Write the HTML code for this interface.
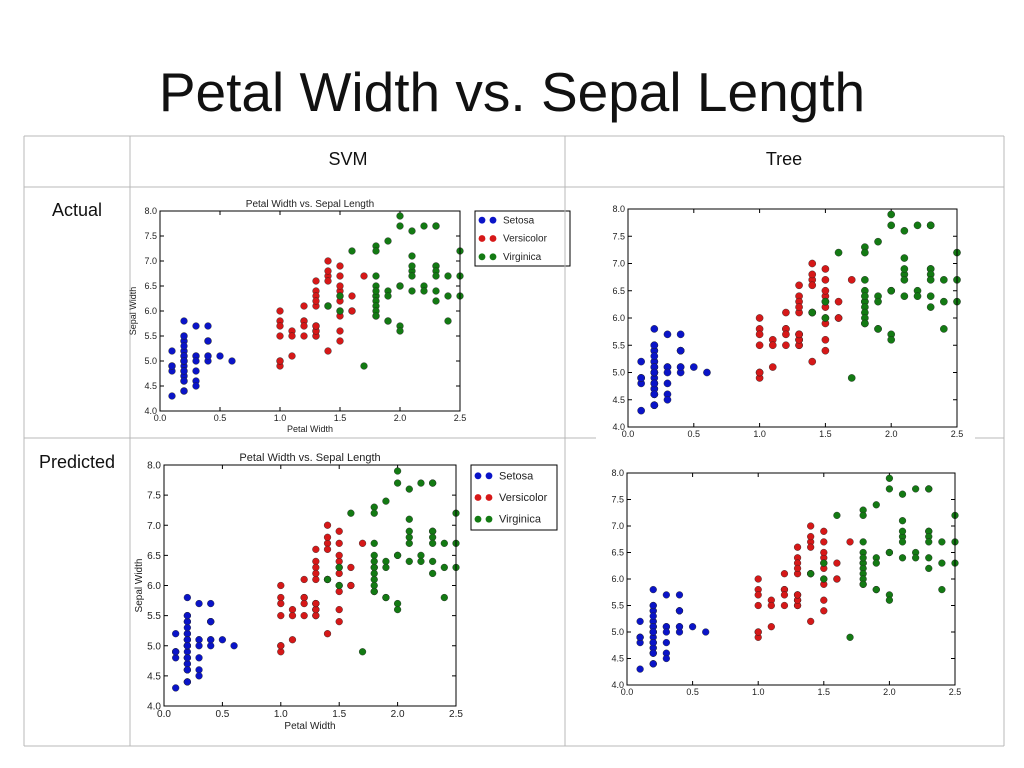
<!DOCTYPE html>
<html><head><meta charset="utf-8">
<style>
body{margin:0;background:#fff;width:1024px;height:768px;overflow:hidden;font-family:"Liberation Sans",sans-serif;}
#title{position:absolute;left:0;width:1024px;top:60px;text-align:center;font-size:55px;color:#111;}
svg{position:absolute;left:0;top:0;}
</style></head><body>
<div id="title">Petal Width vs. Sepal Length</div>
<svg id="s" width="1024" height="768"></svg>
<script>
const setosaPW=[0.2,0.2,0.2,0.2,0.2,0.4,0.3,0.2,0.2,0.1,0.2,0.2,0.1,0.1,0.2,0.4,0.4,0.3,0.3,0.3,0.2,0.4,0.2,0.5,0.2,0.2,0.4,0.2,0.2,0.2,0.2,0.4,0.1,0.2,0.1,0.2,0.2,0.1,0.2,0.2,0.3,0.3,0.2,0.6,0.4,0.3,0.2,0.2,0.2,0.2];
const setosaSL=[5.1,4.9,4.7,4.6,5.0,5.4,4.6,5.0,4.4,4.9,5.4,4.8,4.8,4.3,5.8,5.7,5.4,5.1,5.7,5.1,5.4,5.1,4.6,5.1,4.8,5.0,5.0,5.2,5.2,4.7,4.8,5.4,5.2,5.5,4.9,5.0,5.5,4.9,4.4,5.1,5.0,4.5,4.4,5.0,5.1,4.8,5.1,4.6,5.3,5.0];
const versiPW=[1.4,1.5,1.5,1.3,1.5,1.3,1.6,1.0,1.3,1.4,1.0,1.5,1.0,1.4,1.3,1.4,1.5,1.0,1.5,1.1,1.8,1.3,1.5,1.2,1.3,1.4,1.4,1.7,1.5,1.0,1.1,1.0,1.2,1.6,1.5,1.6,1.5,1.3,1.3,1.3,1.2,1.4,1.2,1.0,1.3,1.2,1.3,1.3,1.1,1.3];
const versiSL=[7.0,6.4,6.9,5.5,6.5,5.7,6.3,4.9,6.6,5.2,5.0,5.9,6.0,6.1,5.6,6.7,5.6,5.8,6.2,5.6,5.9,6.1,6.3,6.1,6.4,6.6,6.8,6.7,6.0,5.7,5.5,5.5,5.8,6.0,5.4,6.0,6.7,6.3,5.6,5.5,5.5,6.1,5.8,5.0,5.6,5.7,5.7,6.2,5.1,5.7];
const virgPW=[2.5,1.9,2.1,1.8,2.2,2.1,1.7,1.8,1.8,2.5,2.0,1.9,2.1,2.0,2.4,2.3,1.8,2.2,2.3,1.5,2.3,2.0,2.0,1.8,2.1,1.8,1.8,1.8,2.1,1.6,1.9,2.0,2.2,1.5,1.4,2.3,2.4,1.8,1.8,2.1,2.4,2.3,1.9,2.3,2.5,2.3,1.9,2.0,2.3,1.8];
const virgSL=[6.3,5.8,7.1,6.3,6.5,7.6,4.9,7.3,6.7,7.2,6.5,6.4,6.8,5.7,5.8,6.4,6.5,7.7,7.7,6.0,6.9,5.6,7.7,6.3,6.7,7.2,6.2,6.1,6.4,7.2,7.4,7.9,6.4,6.3,6.1,7.7,6.3,6.4,6.0,6.9,6.7,6.9,5.8,6.8,6.7,6.7,6.3,6.5,6.2,5.9];
const xTicks=[0.0,0.5,1.0,1.5,2.0,2.5];
const yTicks=[4.0,4.5,5.0,5.5,6.0,6.5,7.0,7.5,8.0];
const speciesNames=['Setosa','Versicolor','Virginica'];
const colors=['#0a14c8','#d61818','#137a13'];
const NS='http://www.w3.org/2000/svg';
const s=document.getElementById('s');
function mk(tag,attrs,parent,text){const e=document.createElementNS(NS,tag);for(const k in attrs)e.setAttribute(k,attrs[k]);if(text!==undefined)e.textContent=text;(parent||s).appendChild(e);return e;}
const g0=mk('g',{});


[[24,136,1004,136],[24,187,1004,187],[24,438,1004,438],[24,746,1004,746],[24,136,24,746],[130,136,130,746],[565,136,565,746],[1004,136,1004,746]].forEach(l=>mk('line',{x1:l[0],y1:l[1],x2:l[2],y2:l[3],stroke:'#b8b8b8','stroke-width':1},g0));
function label(txt,x,y,name){const t=mk('text',{x:x,y:y,'font-size':18,'text-anchor':'middle',fill:'#111'},s,txt);}
label('SVM',348,165,'svm-column-header');
label('Tree',784,165,'tree-column-header');
label('Actual',77,216,'actual-row-header');
label('Predicted',77,468,'predicted-row-header');

function plot(name,L,R,T,B,opts){
  const g=mk('g',{});
  
  
  mk('rect',{x:opts.bx0,y:opts.by0,width:opts.bx1-opts.bx0,height:opts.by1-opts.by0,fill:'#fff'},g);
  const xs=v=>L+(v-0)/(2.5)*(R-L);
  const ys=v=>B-(v-4)/4*(B-T);
  const fs=opts.fs;
  xTicks.forEach(t=>{mk('line',{x1:xs(t),y1:B,x2:xs(t),y2:B-4,stroke:'#000'},g);mk('line',{x1:xs(t),y1:T,x2:xs(t),y2:T+4,stroke:'#000'},g);
    mk('text',{x:xs(t),y:B+fs+1,'font-size':fs,'text-anchor':'middle',fill:'#222'},g,t.toFixed(1));});
  yTicks.forEach(t=>{mk('line',{x1:L,y1:ys(t),x2:L+4,y2:ys(t),stroke:'#000'},g);mk('line',{x1:R,y1:ys(t),x2:R-4,y2:ys(t),stroke:'#000'},g);
    mk('text',{x:L-3,y:ys(t)+fs*0.35,'font-size':fs,'text-anchor':'end',fill:'#222'},g,t.toFixed(1));});
  const sets=[[setosaPW,setosaSL],[versiPW,versiSL],[virgPW,virgSL]];
  sets.forEach((d,ci)=>{d[0].forEach((pw,i)=>{const c=mk('circle',{cx:xs(pw),cy:ys(d[1][i]),r:opts.r,fill:colors[ci],stroke:'#222','stroke-width':0.4},g);
    
    });});
  mk('rect',{x:L,y:T,width:R-L,height:B-T,fill:'none',stroke:'#000','stroke-width':1},g);
  if(opts.title){
    const t=mk('text',{x:(L+R)/2,y:T-4,'font-size':fs+1,'text-anchor':'middle',fill:'#222'},g,'Petal Width vs. Sepal Length');
    
    const xl=mk('text',{x:(L+R)/2,y:B+fs*2+3,'font-size':fs,'text-anchor':'middle',fill:'#222'},g,'Petal Width');
    
    const yl=mk('text',{x:0,y:0,'font-size':fs,'text-anchor':'middle',fill:'#222',transform:`translate(${opts.ylx},${(T+B)/2}) rotate(-90)`},g,'Sepal Width');
    
    const lg=mk('g',{},g);
    
    
    const [lx,ly,lw,lh]=opts.leg;
    mk('rect',{x:lx,y:ly,width:lw,height:lh,fill:'#fff',stroke:'#000'},lg);
    speciesNames.forEach((n,i)=>{const yy=ly+lh*(i+0.5)/3;
      mk('circle',{cx:lx+7,cy:yy,r:opts.r,fill:colors[i]},lg);mk('circle',{cx:lx+18,cy:yy,r:opts.r,fill:colors[i]},lg);
      const t=mk('text',{x:lx+28,y:yy+fs*0.35,'font-size':fs+1,fill:'#222'},lg,n);
      });
  }
}
plot('svm-actual-chart',160,460,211,411,{bx0:131,by0:190,bx1:564,by1:437,fs:9,r:3.4,title:true,ylx:136,leg:[475,211,95,55]});
plot('tree-actual-chart',628,957,209,427,{bx0:596,by0:196,bx1:975,by1:442,fs:9,r:3.6});
plot('svm-predicted-chart',164,456,465,706,{bx0:131,by0:443,bx1:562,by1:745,fs:10,r:3.4,title:true,ylx:142,leg:[471,465,86,65]});
plot('tree-predicted-chart',627,955,473,685,{bx0:598,by0:462,bx1:970,by1:705,fs:9,r:3.4});
// redraw cell border over clipped legend edge
mk('line',{x1:565,y1:187,x2:565,y2:438,stroke:'#b8b8b8'});
</script>
</body></html>
